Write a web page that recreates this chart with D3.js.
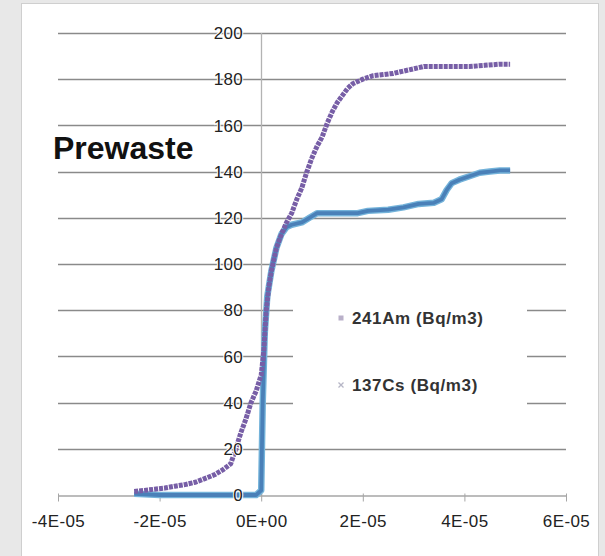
<!DOCTYPE html>
<html>
<head>
<meta charset="utf-8">
<script src="https://cdn.jsdelivr.net/npm/d3@7"></script>
<style>
  html, body { margin: 0; padding: 0; background: #e8e8e8; }
  svg { display: block; }
</style>
</head>
<body>
<div id="chart"></div>
<script>
// values, x in seconds-ish units as plotted
const titleText = 'Prewaste'
const seriesNames = ['241Am (Bq/m3)', '137Cs (Bq/m3)']

const xTicks = [-4e-5, -2e-5, 0, 2e-5, 4e-5, 6e-5]
const xTickLabels = ['-4E-05', '-2E-05', '0E+00', '2E-05', '4E-05', '6E-05']
const yTicks = [0, 20, 40, 60, 80, 100, 120, 140, 160, 180, 200]

const am241 = [
  [-2.5e-5, 1.5], [-2.3e-5, 2], [-2.1e-5, 2.5], [-1.9e-5, 3], [-1.7e-5, 3.8],
  [-1.5e-5, 4.5], [-1.3e-5, 5.5], [-1.1e-5, 7.2], [-0.9e-5, 9], [-0.75e-5, 11],
  [-0.6e-5, 13.5], [-0.5e-5, 20], [-0.4e-5, 27], [-0.3e-5, 33], [-0.2e-5, 40],
  [-0.1e-5, 45], [0, 52], [0.05e-5, 62], [0.1e-5, 80], [0.15e-5, 90],
  [0.2e-5, 97], [0.3e-5, 107], [0.4e-5, 113], [0.5e-5, 118], [0.6e-5, 122],
  [0.7e-5, 128], [0.8e-5, 133], [0.9e-5, 140], [1.0e-5, 146], [1.1e-5, 151],
  [1.2e-5, 155], [1.3e-5, 161], [1.4e-5, 166], [1.5e-5, 170], [1.6e-5, 173],
  [1.7e-5, 176], [1.8e-5, 178], [1.9e-5, 179], [2.0e-5, 180], [2.2e-5, 181.5],
  [2.4e-5, 182], [2.6e-5, 182.5], [2.8e-5, 183.5], [3.0e-5, 184.5], [3.2e-5, 185.5],
  [3.5e-5, 185.5], [3.8e-5, 185.5], [4.1e-5, 185.5], [4.4e-5, 186], [4.7e-5, 186.5],
  [4.9e-5, 186.5]
]

const cs137 = [
  [-2.5e-5, 0.5], [-2.0e-5, 0], [-1.5e-5, 0], [-1.0e-5, 0], [-0.5e-5, 0],
  [-0.1e-5, 0], [0, 2], [0.03e-5, 40], [0.07e-5, 70], [0.12e-5, 86],
  [0.2e-5, 97], [0.3e-5, 107], [0.4e-5, 113], [0.5e-5, 116], [0.6e-5, 117],
  [0.8e-5, 118], [0.95e-5, 120], [1.1e-5, 122], [1.5e-5, 122], [1.9e-5, 122],
  [2.1e-5, 123], [2.5e-5, 123.5], [2.8e-5, 124.5], [3.1e-5, 126], [3.4e-5, 126.5],
  [3.55e-5, 128], [3.65e-5, 132], [3.75e-5, 135], [3.9e-5, 136.5], [4.1e-5, 138],
  [4.3e-5, 139.5], [4.5e-5, 140], [4.7e-5, 140.5], [4.9e-5, 140.5]
]

function drawChart () {
  const width = 605
  const height = 556
  const font = '"Liberation Sans", Arial, sans-serif'

  const svg = d3.select('#chart')
    .append('svg')
    .attr('width', width)
    .attr('height', height)

  // white chart panel on the grey page
  svg.append('rect')
    .attr('x', 21.5)
    .attr('y', 3.5)
    .attr('width', 577)
    .attr('height', 570)
    .attr('fill', '#fff')
    .attr('stroke', '#cfcfcf')

  const x = d3.scaleLinear()
    .domain([-4e-5, 6e-5])
    .range([58, 566])
  const y = d3.scaleLinear()
    .domain([0, 200])
    .range([495, 33])

  // horizontal gridlines
  svg.append('g')
    .selectAll('line')
    .data(yTicks.filter(d => d > 0))
    .join('line')
    .attr('x1', x(-4e-5))
    .attr('x2', x(6e-5))
    .attr('y1', d => Math.round(y(d)) + 0.5)
    .attr('y2', d => Math.round(y(d)) + 0.5)
    .attr('stroke', '#8a8a8a')
    .attr('stroke-width', 1.4)

  // legend box sits over the gridlines
  const legend = svg.append('g')
  legend.append('rect')
    .attr('x', 293)
    .attr('y', 274)
    .attr('width', 234)
    .attr('height', 164)
    .attr('fill', '#fff')

  // vertical value axis at x = 0
  svg.append('line')
    .attr('x1', Math.round(x(0)) + 0.5)
    .attr('x2', Math.round(x(0)) + 0.5)
    .attr('y1', y(200))
    .attr('y2', y(0))
    .attr('stroke', '#b3b3b3')
    .attr('stroke-width', 1.3)

  // x axis
  const xAxis = svg.append('g')
    .attr('transform', 'translate(0,' + (Math.round(y(0)) + 0.5) + ')')
    .call(d3.axisBottom(x)
      .tickValues(xTicks)
      .tickFormat((d, i) => xTickLabels[i])
      .tickSizeInner(6)
      .tickSizeOuter(0)
      .tickPadding(13))
  xAxis.select('.domain').attr('stroke', '#a6a6a6').attr('stroke-width', 1.5)
  xAxis.selectAll('.tick line').attr('stroke', '#a6a6a6').attr('y1', -2)
  xAxis.selectAll('.tick text')
    .attr('font-family', font)
    .attr('font-size', 17)
    .attr('letter-spacing', 0.4)
    .attr('fill', '#222')

  // series
  const line = d3.line()
    .x(d => x(d[0]))
    .y(d => y(d[1]))

  // blue drawn first, the purple markers sit on top of it
  svg.append('path')
    .datum(cs137)
    .attr('fill', 'none')
    .attr('stroke', '#74b3da')
    .attr('stroke-width', 6.5)
    .attr('stroke-linejoin', 'round')
    .attr('d', line)
  svg.append('path')
    .datum(cs137)
    .attr('fill', 'none')
    .attr('stroke', '#4a80b8')
    .attr('stroke-width', 3.8)
    .attr('stroke-linejoin', 'round')
    .attr('d', line)

  svg.append('path')
    .datum(am241)
    .attr('fill', 'none')
    .attr('stroke', '#775ea6')
    .attr('stroke-width', 5)
    .attr('stroke-dasharray', '4 1')
    .attr('d', line)

  // y tick labels with a white halo over the gridlines
  svg.append('g')
    .selectAll('text')
    .data(yTicks)
    .join('text')
    .attr('x', 243)
    .attr('y', d => y(d))
    .attr('dy', '0.36em')
    .attr('text-anchor', 'end')
    .attr('font-family', font)
    .attr('font-size', 17)
    .attr('letter-spacing', 0.3)
    .attr('fill', '#222')
    .attr('stroke', '#fff')
    .attr('stroke-width', 2)
    .attr('paint-order', 'stroke')
    .text(d => d)

  // legend entries
  const items = legend.selectAll('g.item')
    .data(seriesNames)
    .join('g')
    .attr('class', 'item')
    .attr('transform', (d, i) => 'translate(341,' + (318 + i * 67) + ')')
  items.filter((d, i) => i === 0)
    .append('rect')
    .attr('x', -2.5)
    .attr('y', -2.5)
    .attr('width', 5)
    .attr('height', 5)
    .attr('fill', '#b9b0c9')
  items.filter((d, i) => i === 1)
    .append('path')
    .attr('d', 'M-2.5,-2.5L2.5,2.5M-2.5,2.5L2.5,-2.5')
    .attr('stroke', '#b6b6c6')
    .attr('stroke-width', 1.3)
  items.append('text')
    .attr('x', 11)
    .attr('dy', '0.36em')
    .attr('font-family', font)
    .attr('font-size', 17)
    .attr('font-weight', 'bold')
    .attr('letter-spacing', 0.6)
    .attr('fill', '#333')
    .text(d => d)

  // chart title inside the plot
  svg.append('text')
    .attr('x', 53)
    .attr('y', 159)
    .attr('font-family', font)
    .attr('font-size', 32)
    .attr('font-weight', 'bold')
    .attr('fill', '#111')
    .text(titleText)
}

drawChart()
</script>
</body>
</html>
